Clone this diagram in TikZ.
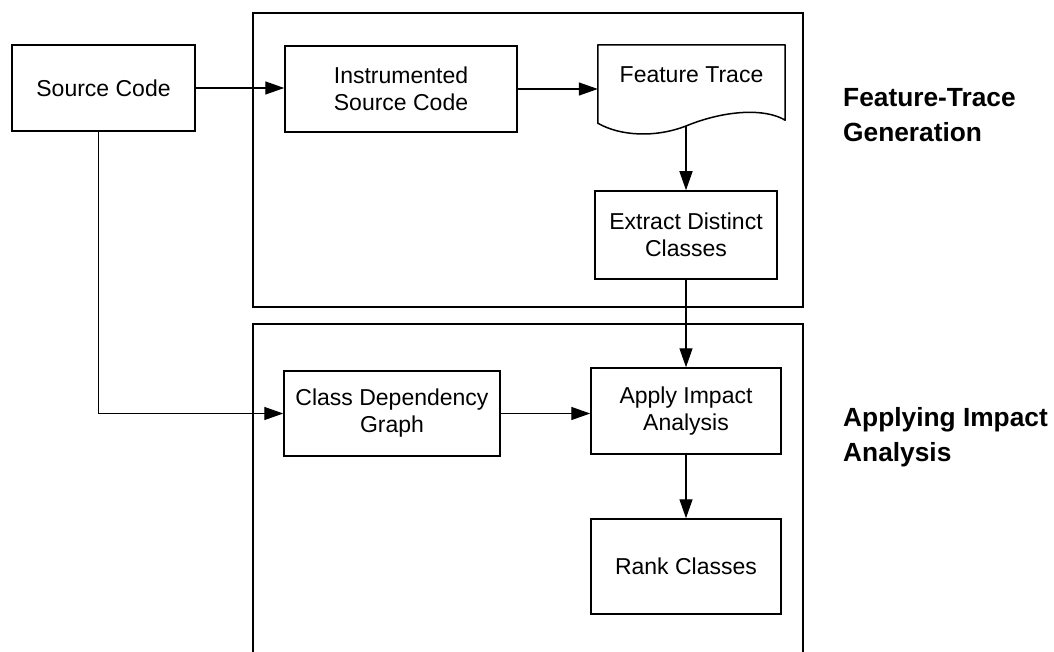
\documentclass[tikz,border=0pt]{standalone}
\usepackage{fontspec}
\setmainfont{Liberation Sans}
\usetikzlibrary{arrows.meta,calc}
\begin{document}
\begin{tikzpicture}[x=1pt,y=-1pt,
  box/.style={draw, line width=1.5pt, inner sep=0pt, align=center,
    font=\fontsize{23}{27}\selectfont},
  outline/.style={line width=1.5pt, line join=round},
  frame/.style={draw, line width=2.3pt, inner sep=0pt},
  flow/.style={line width=1.4pt, -{Triangle[length=19pt,width=13pt]}},
  phase/.style={anchor=north west, align=left, inner sep=0pt,
    font=\bfseries\fontsize{26.3}{35}\selectfont}]
\useasboundingbox (0,0) rectangle (1054,652);

% phase frames
\node[frame, minimum width=550, minimum height=294] (gen) at (528,160) {};
\draw[line width=2.3pt] (253,652) -- (253,324) -- (803,324) -- (803,652);

% process boxes
\node[box, minimum width=183, minimum height=86] (src) at (103.5,88) {Source Code};
\node[box, minimum width=232, minimum height=86] (instr) at (401,89) {Instrumented\\Source Code};
\node[inner sep=0pt, minimum width=187, minimum height=60,
      font=\fontsize{23}{27}\selectfont] (ft) at (691.5,75) {Feature Trace};
\node[box, minimum width=182, minimum height=88] (ext) at (686,235) {Extract Distinct\\Classes};
\node[box, minimum width=216, minimum height=85] (cdg) at (392,413.5) {Class Dependency\\Graph};
\node[box, minimum width=190, minimum height=86] (apply) at (686,411) {Apply Impact\\Analysis};
\node[box, minimum width=190, minimum height=95] (rank) at (686,566.5) {Rank Classes};

% document shape with wavy lower edge
\coordinate (ftout) at (686,126);
\draw[outline] ($(ft.south west)+(0,18)$) -- (ft.north west) -- (ft.north east)
  -- ($(ft.south east)+(0,15)$)
  .. controls (765,108) and (725,110) .. (ftout)
  .. controls (655,138) and (620,136) .. ($(ft.south west)+(0,18)$) -- cycle;

% connectors
\draw[flow] (src.east) -- (src.east -| instr.west);
\draw[flow] (instr.east) -- (instr.east -| ft.west);
\draw[flow] (ftout) -- (ext.north);
\draw[flow] (ext.south) -- (apply.north);
\draw[flow] (apply.south) -- (rank.north);
\draw[flow] ([xshift=-5pt]src.south) |- (cdg.west);
\draw[flow] (cdg.east) -- (cdg.east -| apply.west);

% phase labels
\node[phase] (lgen) at (843,88) {Feature-Trace\\Generation};
\node[phase] (lana) at (843,407) {Applying Impact\\Analysis};
\end{tikzpicture}
\end{document}
